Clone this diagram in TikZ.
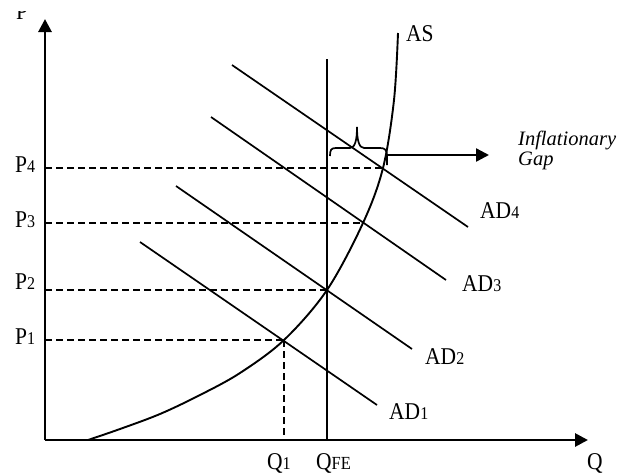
\documentclass[tikz,border=0pt]{standalone}
\usepackage{graphicx}
\usepackage{fontspec}
\setmainfont{Liberation Serif}
\usetikzlibrary{arrows.meta}
\newcommand{\smallnum}[1]{{\fontsize{16}{16}\selectfont #1}}
\newcommand{\tallbox}[1]{\scalebox{1}[1.12]{#1}}
\begin{document}
\begin{tikzpicture}[x=1pt,y=-1pt,
  axis/.style={line width=2.8pt, -{Triangle[length=13pt,width=13pt]}},
  adline/.style={line width=1.7pt},
  asline/.style={line width=1.9pt},
  guide/.style={line width=2.5pt, dash pattern=on 7pt off 4pt},
  vline/.style={line width=2.6pt},
  lbl/.style={font=\fontsize{21.5}{21.5}\selectfont, inner sep=0pt},
  gapbrace/.style={line width=1.7pt},
  gaparrow/.style={line width=2.4pt, -{Triangle[length=13pt,width=13pt]}}]
\useasboundingbox (0,0) rectangle (632,475);
% axes
\coordinate (O) at (45,440);
\coordinate (Ytop) at (45,19);
\coordinate (Xend) at (588,440);
\draw[axis] (O) -- (Ytop);
\draw[axis] (O) -- (Xend);
\begin{scope}
\clip (0,11) rectangle (60,30);
\node[lbl, anchor=base west] (Plabel) at (16,19) {\tallbox{P}};
\end{scope}
\node[lbl, anchor=base west] (Qlabel) at (587,469) {\tallbox{Q}};
% full employment line
\coordinate (QFEb) at (327,440);
\coordinate (QFEt) at (327,59);
\draw[vline] (QFEb) -- (QFEt);
% AS curve
\draw[asline] plot[smooth, tension=0.55] coordinates {(88,440) (120,429) (160,414) (200,395) (240,373) (284,340) (327,290) (363,223) (383,168) (394,100) (398,33)};
\node[lbl, anchor=base west] (ASlabel) at (406,41) {\tallbox{AS}};
% AD lines
\coordinate (AD4a) at (232,65);  \coordinate (AD4b) at (468,227);
\coordinate (AD3a) at (211,117); \coordinate (AD3b) at (446,280);
\coordinate (AD2a) at (176,186); \coordinate (AD2b) at (412,349);
\coordinate (AD1a) at (140,242); \coordinate (AD1b) at (377,405);
\draw[adline] (AD4a) -- (AD4b);
\draw[adline] (AD3a) -- (AD3b);
\draw[adline] (AD2a) -- (AD2b);
\draw[adline] (AD1a) -- (AD1b);
\node[lbl, anchor=base west] (AD4) at (480,218) {\tallbox{AD\smallnum{4}}};
\node[lbl, anchor=base west] (AD3) at (462,291) {\tallbox{AD\smallnum{3}}};
\node[lbl, anchor=base west] (AD2) at (425,364) {\tallbox{AD\smallnum{2}}};
\node[lbl, anchor=base west] (AD1) at (389,419) {\tallbox{AD\smallnum{1}}};
% price levels
\coordinate (P4a) at (45,168);  \coordinate (E4) at (383,168);
\coordinate (P3a) at (45,223);  \coordinate (E3) at (363,223);
\coordinate (P2a) at (45,290);  \coordinate (E2) at (327,290);
\coordinate (P1a) at (45,340);  \coordinate (E1) at (284,340);
\coordinate (Q1b) at (284,440);
\draw[guide] (P4a) -- (E4);
\draw[guide] (P3a) -- (E3);
\draw[guide] (P2a) -- (E2);
\draw[guide] (P1a) -- (E1);
\draw[guide] (E1) -- (Q1b);
\node[lbl, anchor=base west] (P4) at (15,172) {\tallbox{P\smallnum{4}}};
\node[lbl, anchor=base west] (P3) at (15,227) {\tallbox{P\smallnum{3}}};
\node[lbl, anchor=base west] (P2) at (15,289) {\tallbox{P\smallnum{2}}};
\node[lbl, anchor=base west] (P1) at (15,344) {\tallbox{P\smallnum{1}}};
\node[lbl, anchor=base west] (Q1) at (267,469) {\tallbox{Q\smallnum{1}}};
\node[lbl, anchor=base west] (QFE) at (316,469) {\tallbox{Q{\fontsize{16.5}{16.5}\selectfont FE}}};
% inflationary gap brace and arrow
\draw[gapbrace] (330,156) .. controls (330,150) and (331,148) .. (336,148) -- (350,148)
  .. controls (355,148) and (357,140) .. (357,127)
  .. controls (357,140) and (359,148) .. (364,148) -- (380,148)
  .. controls (385,148) and (387,150) .. (387,156) -- (387,165);
\coordinate (Gs) at (387,155);
\coordinate (Ge) at (489,155);
\draw[gaparrow] (Gs) -- (Ge);
\node[lbl, anchor=north west, align=left, font=\itshape\fontsize{20.5}{20}\selectfont] (Gap) at (518,131) {Inflationary\\Gap};
\end{tikzpicture}
\end{document}
